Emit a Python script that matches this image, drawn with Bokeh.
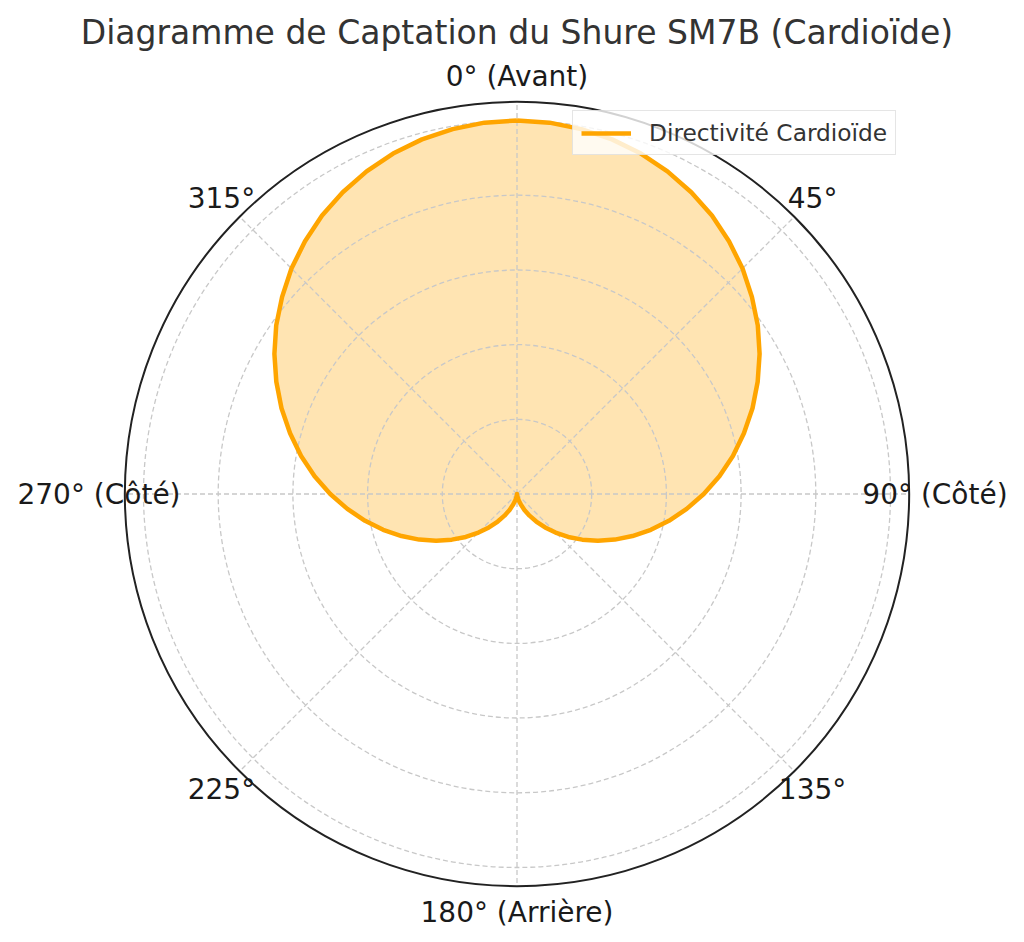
import numpy as np
from bokeh.plotting import figure
from bokeh.models import Range1d, Legend, LegendItem
from bokeh.core.properties import value
from bokeh.embed import file_html
from bokeh.resources import INLINE

# ---- data ----
title_text = "Diagramme de Captation du Shure SM7B (Cardioïde)"
series_label = "Directivité Cardioïde"
theta_deg = list(range(0, 365, 5))
radius = [1.000, 0.998, 0.992, 0.983, 0.970, 0.953, 0.933, 0.910, 0.883, 0.854,
          0.821, 0.787, 0.750, 0.711, 0.671, 0.629, 0.587, 0.544, 0.500, 0.456,
          0.413, 0.371, 0.329, 0.289, 0.250, 0.213, 0.179, 0.146, 0.117, 0.090,
          0.067, 0.047, 0.030, 0.017, 0.008, 0.002, 0.000,
          0.002, 0.008, 0.017, 0.030, 0.047, 0.067, 0.090, 0.117, 0.146,
          0.179, 0.213, 0.250, 0.289, 0.329, 0.371, 0.413, 0.456, 0.500,
          0.544, 0.587, 0.629, 0.671, 0.711, 0.750, 0.787, 0.821, 0.854,
          0.883, 0.910, 0.933, 0.953, 0.970, 0.983, 0.992, 0.998, 1.000]
theta_ticks = [0, 45, 90, 135, 180, 225, 270, 315]
theta_tick_labels = ["0° (Avant)", "45°", "90° (Côté)", "135°",
                     "180° (Arrière)", "225°", "270° (Côté)", "315°"]
r_grid = [0.2, 0.4, 0.6, 0.8, 1.0]
r_max = 1.05

# ---- layout ----
W, H = 1008, 934
U = 373.5              # pixels per radial unit
cx, cy = 516.5, 493.5  # centre in canvas pixels (from top-left)

p = figure(width=W, height=H, output_backend="svg", toolbar_location=None,
           x_axis_location=None, y_axis_location=None, min_border=0,
           x_range=Range1d(-cx / U, (W - cx) / U),
           y_range=Range1d(-(H - cy) / U, cy / U))
p.outline_line_color = None
p.xgrid.visible = False
p.ygrid.visible = False
p.background_fill_color = "white"
p.border_fill_color = "white"

def polar(th_deg, r):
    th = np.radians(np.asarray(th_deg, dtype=float))
    r = np.asarray(r, dtype=float)
    return r * np.sin(th), r * np.cos(th)

FONT = value("DejaVu Sans")
ORANGE = "#FFA500"

# fill
xs, ys = polar(theta_deg, radius)
p.patch(xs, ys, fill_color=ORANGE, fill_alpha=0.3, line_color=None)

# grid circles
grid_col = "#c8c8c8"
p.circle(x=[0] * len(r_grid), y=[0] * len(r_grid), radius=r_grid,
         fill_color=None, line_color=grid_col, line_width=1.3, line_dash="5 3")
# radial grid lines
gx, gy = polar(theta_ticks, [r_max] * len(theta_ticks))
p.segment(x0=[0] * len(theta_ticks), y0=[0] * len(theta_ticks), x1=gx, y1=gy,
          line_color=grid_col, line_width=1.3, line_dash="5 3")

# cardioid line
line = p.line(xs, ys, line_color=ORANGE, line_width=4.5, line_join="round")

# outer spine
p.circle(x=[0], y=[0], radius=[r_max], fill_color=None,
         line_color="#222222", line_width=2)

# theta tick labels
lx, ly = polar(theta_ticks, [418.0 / U] * len(theta_ticks))
p.text(x=lx, y=ly, text=theta_tick_labels, text_font=FONT,
       text_font_size="28px", text_color="#1a1a1a",
       text_align="center", text_baseline="middle")

# title
p.text(x=[0.0], y=[(cy - 32.0) / U], text=[title_text], text_font=FONT,
       text_font_size="33px", text_color="#333333",
       text_align="center", text_baseline="middle")

# legend
legend = Legend(items=[LegendItem(label=series_label, renderers=[line])],
                location=(572, H - 155), padding=8, margin=0, spacing=0,
                glyph_width=50, glyph_height=20, label_height=20,
                label_standoff=18,
                label_text_font="DejaVu Sans", label_text_font_size="23.3px",
                label_text_color="#333333",
                border_line_color="#cccccc", border_line_width=1.5,
                background_fill_color="white", background_fill_alpha=0.8)
p.add_layout(legend)

open("out.html", "w").write(file_html(p, INLINE))
